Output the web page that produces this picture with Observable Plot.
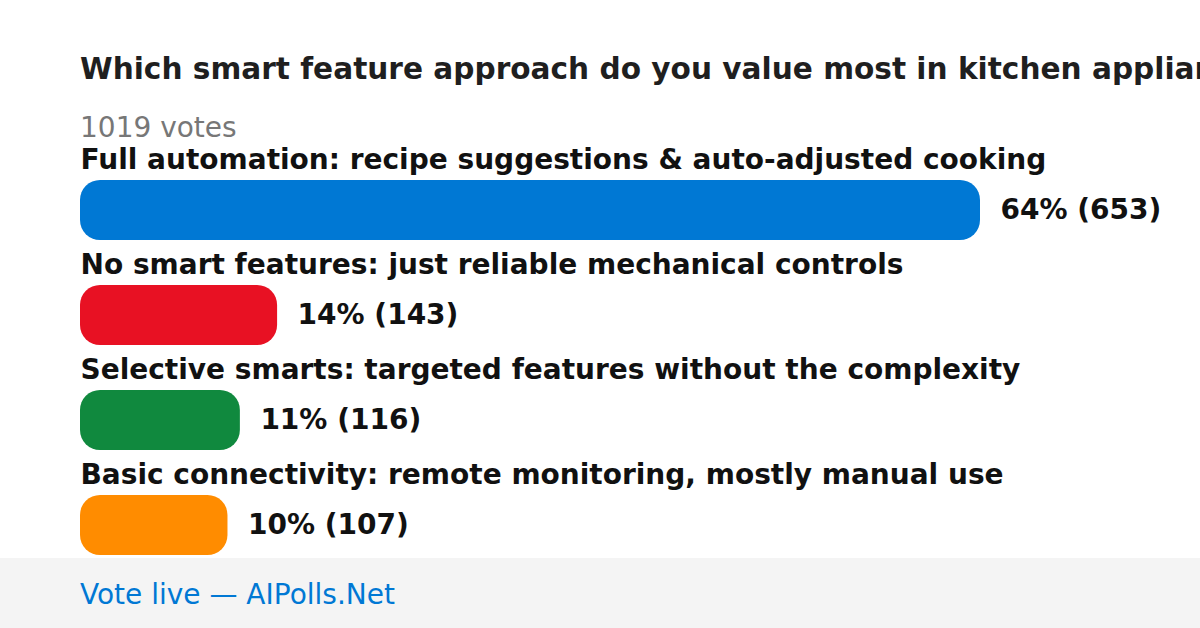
<!DOCTYPE html>
<html>
<head>
<meta charset="utf-8">
<script src="https://cdn.jsdelivr.net/npm/d3@7"></script>
<script src="https://cdn.jsdelivr.net/npm/@observablehq/plot@0.6"></script>
<style>
  html, body { margin: 0; padding: 0; background: #fff; }
  body { width: 1200px; height: 628px; position: relative; overflow: hidden; font-family: "DejaVu Sans", sans-serif; }
  #title { position: absolute; left: 80px; top: 51px; font-size: 29.6px; font-weight: bold; color: #1f1f1f; white-space: nowrap; line-height: 36px; }
  #subtitle { position: absolute; left: 80px; top: 112px; font-size: 28px; color: #777; white-space: nowrap; line-height: 32px; }
  #chart { position: absolute; left: 0; top: 140px; }
  #footer { position: absolute; left: 0; top: 558px; width: 1200px; height: 70px; background: #f4f4f4; }
  #footer span { position: absolute; left: 80px; top: 21px; font-size: 28px; color: #0078d4; line-height: 32px; white-space: nowrap; }
</style>
</head>
<body>
<div id="title"></div>
<div id="subtitle"></div>
<div id="chart"></div>
<div id="footer"><span id="footnote"></span></div>
<script>
const titleText = "Which smart feature approach do you value most in kitchen appliances?";
const totalVotes = 1019;
const options = [
  "Full automation: recipe suggestions & auto-adjusted cooking",
  "No smart features: just reliable mechanical controls",
  "Selective smarts: targeted features without the complexity",
  "Basic connectivity: remote monitoring, mostly manual use"
];
const votes = [653, 143, 116, 107];
const percents = [64, 14, 11, 10];
const colors = ["#0078d4", "#e81123", "#10893e", "#ff8c00"];
const footText = "Vote live — AIPolls.Net";

document.getElementById("title").textContent = titleText;
document.getElementById("subtitle").textContent = `${totalVotes} votes`;
document.getElementById("footnote").textContent = footText;

const data = options.map((o, i) => ({option: o, votes: votes[i], pct: percents[i], color: colors[i]}));

const chart = Plot.plot({
  width: 1200,
  height: 420,
  marginLeft: 80,
  marginRight: 220,
  marginTop: 0,
  marginBottom: 0,
  style: {fontFamily: "DejaVu Sans, sans-serif", background: "transparent", overflow: "visible"},
  x: {domain: [0, d3.max(votes)], axis: null},
  y: {domain: options, axis: null, padding: 0},
  color: {domain: options, range: colors},
  marks: [
    Plot.barX(data, {x: "votes", y: "option", fill: "option", insetTop: 40, insetBottom: 5, rx: 20}),
    Plot.text(data, {x: 0, y: "option", text: "option", textAnchor: "start", dy: -33, fontSize: 28, fontWeight: "bold", fill: "#111"}),
    Plot.text(data, {x: "votes", y: "option", text: d => `${d.pct}% (${d.votes})`, textAnchor: "start", dx: 20, dy: 17, fontSize: 28, fontWeight: "bold", fill: "#111"})
  ]
});
document.getElementById("chart").appendChild(chart);
</script>
</body>
</html>
